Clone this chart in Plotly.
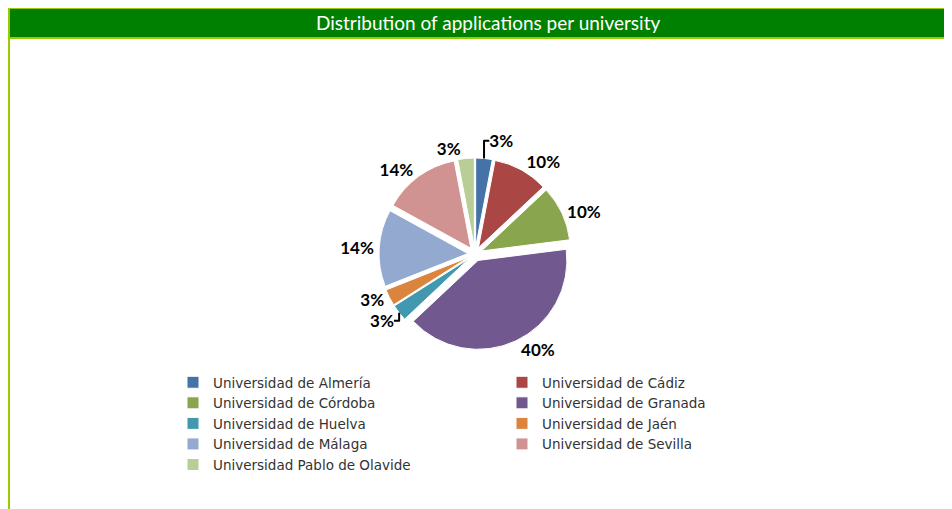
import plotly.graph_objects as go

W, H = 952, 509
OFF = 8  # page offset of the figure (body margin)

universities = [
    "Universidad de Almería",
    "Universidad de Cádiz",
    "Universidad de Córdoba",
    "Universidad de Granada",
    "Universidad de Huelva",
    "Universidad de Jaén",
    "Universidad de Málaga",
    "Universidad de Sevilla",
    "Universidad Pablo de Olavide",
]
shares = [3, 10, 10, 40, 3, 3, 14, 14, 3]
colors = ["#4572A7", "#AA4643", "#89A54E", "#71588F", "#4198AF",
          "#DB843D", "#93A9CF", "#D19392", "#B9CD96"]
title_text = "Distribution of applications per university"


def px(x):
    return (x - OFF) / W


def py(y):
    return 1 - (y - OFF) / H


fig = go.Figure(go.Pie(
    labels=universities,
    values=shares,
    sort=False,
    direction="clockwise",
    rotation=0,
    marker=dict(colors=colors, line=dict(color="white", width=1)),
    pull=[0.08] * len(shares),
    textinfo="percent",
    textposition="outside",
    textfont=dict(family="Lato", size=17, color="black", weight="bold"),
    domain=dict(x=[px(300), px(650)], y=[py(350), py(158)]),
    hoverinfo="label+percent",
))

shapes = [
    dict(type="rect", xref="paper", yref="paper", x0=px(8), x1=1.0,
         y0=py(39), y1=py(7), fillcolor="#99CC00", line=dict(width=0), layer="below"),
    dict(type="rect", xref="paper", yref="paper", x0=px(10), x1=1.0,
         y0=py(37), y1=py(9), fillcolor="#008000", line=dict(width=0), layer="below"),
    dict(type="rect", xref="paper", yref="paper", x0=px(8), x1=px(10),
         y0=0, y1=py(7), fillcolor="#99CC00", line=dict(width=0), layer="below"),
]

fig.update_layout(
    width=W, height=H,
    margin=dict(l=0, r=0, t=0, b=0),
    paper_bgcolor="white",
    plot_bgcolor="white",
    shapes=shapes,
    annotations=[dict(
        text=title_text, xref="paper", yref="paper",
        x=px(488), y=py(23), xanchor="center", yanchor="middle",
        showarrow=False, font=dict(family="Lato", size=19, color="white"),
    )],
    showlegend=True,
    legend=dict(
        orientation="h",
        x=px(173), y=py(367), xanchor="left", yanchor="top",
        entrywidth=284, entrywidthmode="pixels",
        font=dict(family="DejaVu Sans", size=13.5, color="#333333"),
        bgcolor="rgba(0,0,0,0)",
        itemclick=False,
    ),
)

fig.write_html("out.html")
